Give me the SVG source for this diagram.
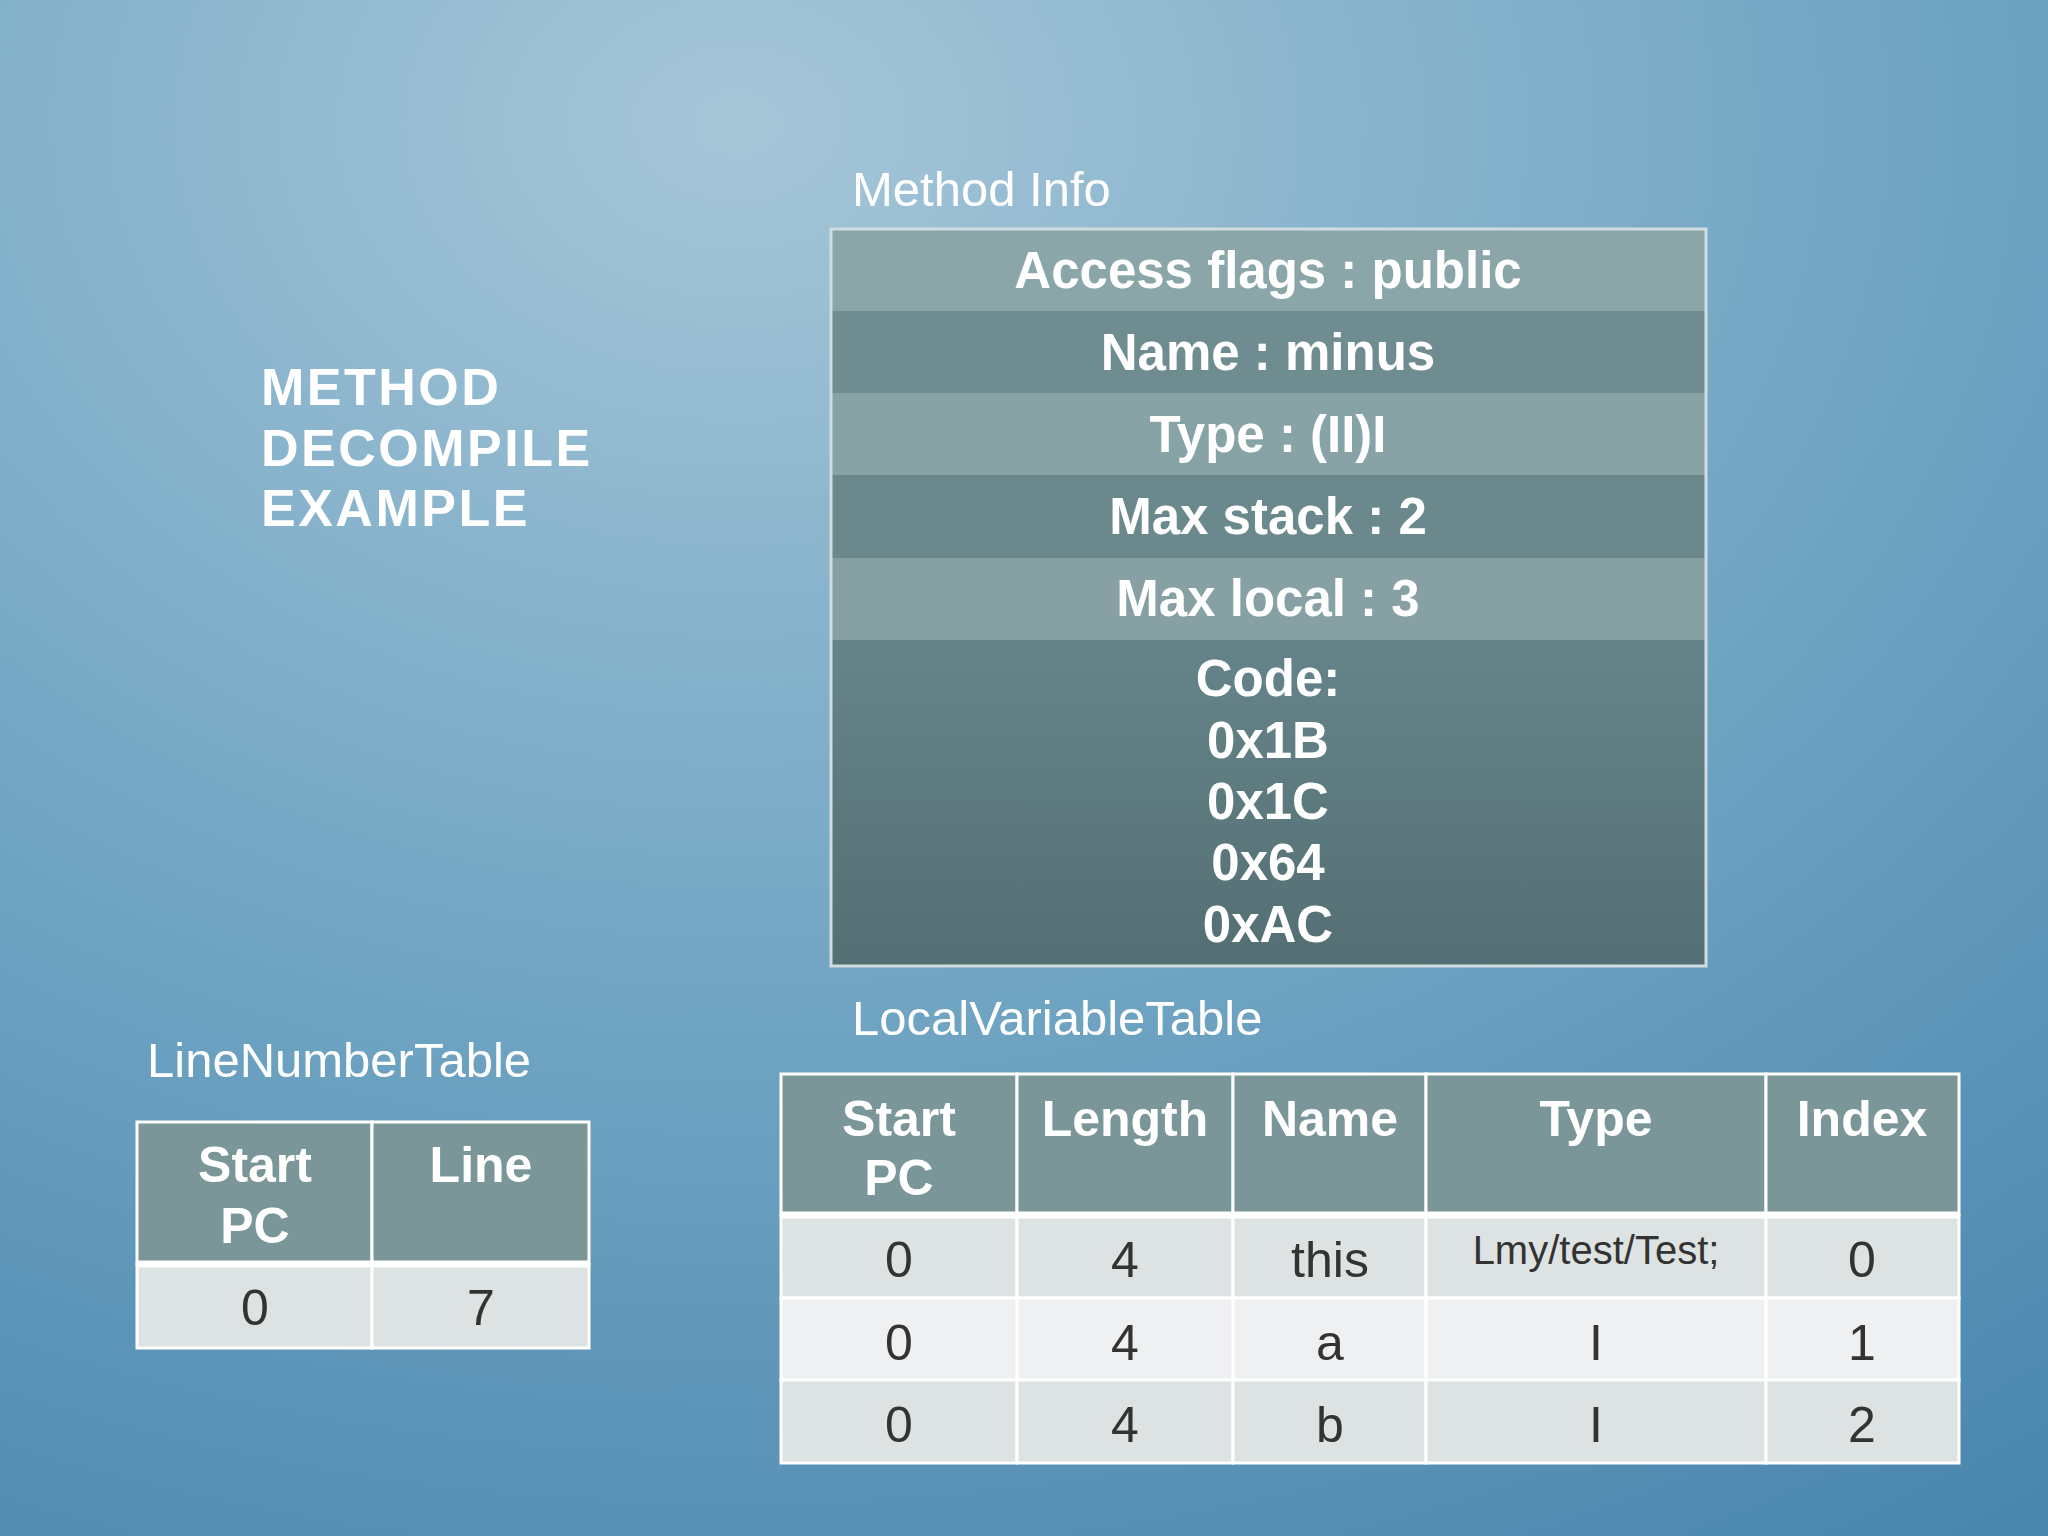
<svg xmlns="http://www.w3.org/2000/svg" width="2048" height="1536" viewBox="0 0 2048 1536">
<defs>
<radialGradient id="bg" cx="0.36" cy="0.08" r="1.1">
<stop offset="0" stop-color="#a6c6d8"/><stop offset="0.5" stop-color="#72a6c4"/><stop offset="1" stop-color="#4a86ae"/>
</radialGradient>
<linearGradient id="code" x1="0" y1="0" x2="0" y2="1"><stop offset="0" stop-color="#658489"/><stop offset="1" stop-color="#546f74"/></linearGradient>
<style>
.t{font-family:"Liberation Sans",Arial,sans-serif;fill:#fff}
.mb{font-family:"Liberation Sans",Arial,sans-serif;font-weight:bold;font-size:51px;fill:#fff;text-anchor:middle}
.lab{font-family:"Liberation Sans",Arial,sans-serif;font-size:49px;fill:#fff}
.hd{font-family:"Liberation Sans",Arial,sans-serif;font-weight:bold;font-size:50px;fill:#fff;text-anchor:middle}
.cl{font-family:"Liberation Sans",Arial,sans-serif;font-size:50px;fill:#333;text-anchor:middle}
.hc{fill:#7a9698;stroke:#fff;stroke-width:3}
.r1{fill:#dde2e2;stroke:#fff;stroke-width:3}
.r2{fill:#eef0f2;stroke:#fff;stroke-width:3}
</style>
</defs>
<rect width="2048" height="1536" fill="url(#bg)"/>
<g id="title"><text class="t" font-weight="900" font-size="52" letter-spacing="2.5"><tspan x="261" y="405">METHOD</tspan><tspan x="261" y="466">DECOMPILE</tspan><tspan x="261" y="526">EXAMPLE</tspan></text></g>
<g id="method-info">
<text class="lab" x="852" y="206">Method Info</text>
<rect x="831" y="229" width="875" height="82" fill="#8aa6a9"/>
<rect x="831" y="311" width="875" height="82" fill="#6f8d91"/>
<rect x="831" y="393" width="875" height="82" fill="#88a3a6"/>
<rect x="831" y="475" width="875" height="83" fill="#6b898d"/>
<rect x="831" y="558" width="875" height="82" fill="#86a0a3"/>
<rect x="831" y="640" width="875" height="326" fill="url(#code)"/>
<rect x="831" y="229" width="875" height="737" fill="none" stroke="#d0dcdf" stroke-width="3"/>
<text class="mb" x="1268" y="288">Access flags : public</text>
<text class="mb" x="1268" y="370">Name : minus</text>
<text class="mb" x="1268" y="452">Type : (II)I</text>
<text class="mb" x="1268" y="534">Max stack : 2</text>
<text class="mb" x="1268" y="616">Max local : 3</text>
<text class="mb" x="1268" y="696">Code:</text>
<text class="mb" x="1268" y="758">0x1B</text>
<text class="mb" x="1268" y="819">0x1C</text>
<text class="mb" x="1268" y="880">0x64</text>
<text class="mb" x="1268" y="942">0xAC</text>
</g>
<g id="local-variable-table">
<text class="lab" x="852" y="1035">LocalVariableTable</text>
<rect class="hc" x="781" y="1074" width="236" height="141"/>
<rect class="hc" x="1017" y="1074" width="216" height="141"/>
<rect class="hc" x="1233" y="1074" width="193" height="141"/>
<rect class="hc" x="1426" y="1074" width="340" height="141"/>
<rect class="hc" x="1766" y="1074" width="193" height="141"/>
<text class="hd" x="899" y="1136">Start</text><text class="hd" x="899" y="1195">PC</text>
<text class="hd" x="1125" y="1136">Length</text>
<text class="hd" x="1330" y="1136">Name</text>
<text class="hd" x="1596" y="1136">Type</text>
<text class="hd" x="1862" y="1136">Index</text>
<g>
<rect class="r1" x="781" y="1215" width="236" height="83"/><rect class="r1" x="1017" y="1215" width="216" height="83"/><rect class="r1" x="1233" y="1215" width="193" height="83"/><rect class="r1" x="1426" y="1215" width="340" height="83"/><rect class="r1" x="1766" y="1215" width="193" height="83"/>
<rect class="r2" x="781" y="1298" width="236" height="82"/><rect class="r2" x="1017" y="1298" width="216" height="82"/><rect class="r2" x="1233" y="1298" width="193" height="82"/><rect class="r2" x="1426" y="1298" width="340" height="82"/><rect class="r2" x="1766" y="1298" width="193" height="82"/>
<rect class="r1" x="781" y="1380" width="236" height="83"/><rect class="r1" x="1017" y="1380" width="216" height="83"/><rect class="r1" x="1233" y="1380" width="193" height="83"/><rect class="r1" x="1426" y="1380" width="340" height="83"/><rect class="r1" x="1766" y="1380" width="193" height="83"/>
</g>
<line x1="781" y1="1215" x2="1959" y2="1215" stroke="#fff" stroke-width="7"/>
<text class="cl" x="899" y="1277">0</text><text class="cl" x="1125" y="1277">4</text><text class="cl" x="1330" y="1277">this</text><text class="cl" x="1596" y="1264" style="font-size:40px">Lmy/test/Test;</text><text class="cl" x="1862" y="1277">0</text>
<text class="cl" x="899" y="1360">0</text><text class="cl" x="1125" y="1360">4</text><text class="cl" x="1330" y="1360">a</text><text class="cl" x="1596" y="1360">I</text><text class="cl" x="1862" y="1360">1</text>
<text class="cl" x="899" y="1442">0</text><text class="cl" x="1125" y="1442">4</text><text class="cl" x="1330" y="1442">b</text><text class="cl" x="1596" y="1442">I</text><text class="cl" x="1862" y="1442">2</text>
</g>
<g id="line-number-table">
<text class="lab" x="147" y="1077">LineNumberTable</text>
<rect class="hc" x="137" y="1122" width="235" height="142"/>
<rect class="hc" x="372" y="1122" width="217" height="142"/>
<rect class="r1" x="137" y="1264" width="235" height="84"/>
<rect class="r1" x="372" y="1264" width="217" height="84"/>
<line x1="137" y1="1264" x2="589" y2="1264" stroke="#fff" stroke-width="7"/>
<text class="hd" x="255" y="1182">Start</text><text class="hd" x="255" y="1243">PC</text>
<text class="hd" x="481" y="1182">Line</text>
<text class="cl" x="255" y="1325">0</text><text class="cl" x="481" y="1325">7</text>
</g>
<g id="connectors"/>
</svg>
